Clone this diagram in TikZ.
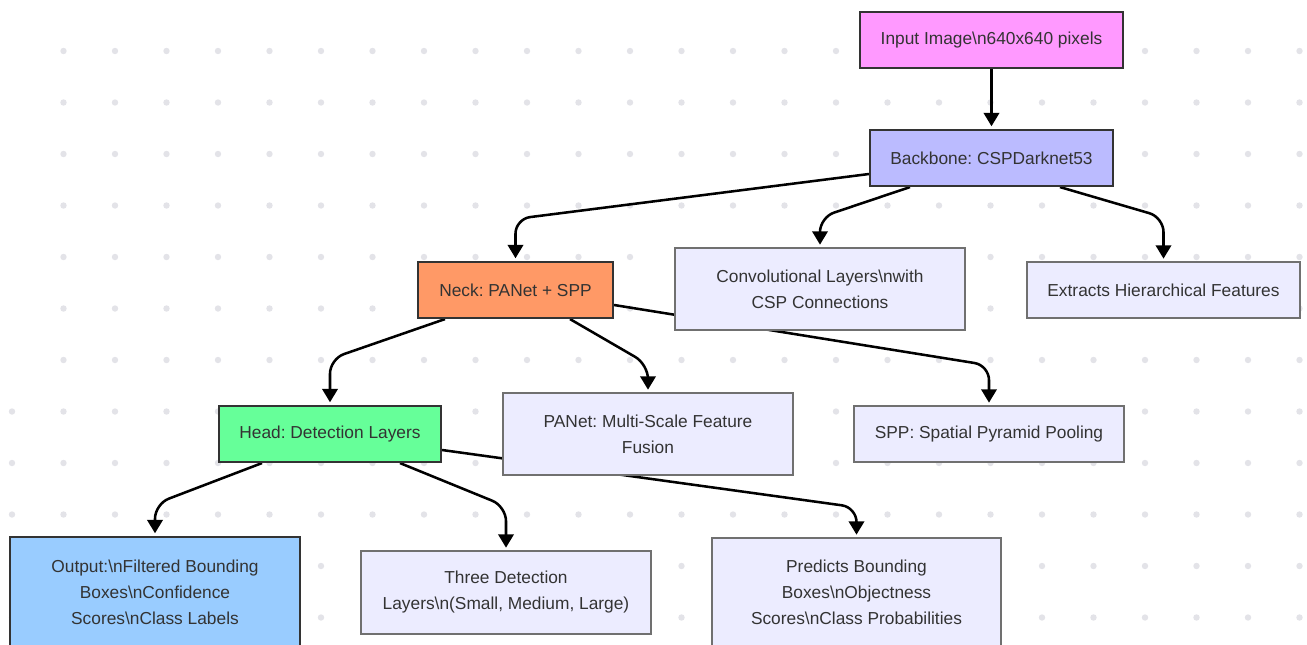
\documentclass[tikz,border=0pt]{standalone}
\usepackage{fontspec}
\setmainfont{Liberation Sans}
\frenchspacing
\usetikzlibrary{arrows.meta,calc}
\definecolor{txt}{HTML}{333333}
\definecolor{dotc}{HTML}{E3E3E8}
\definecolor{cInput}{HTML}{FF99FF}
\definecolor{cBack}{HTML}{BBBBFF}
\definecolor{cNeck}{HTML}{FF9966}
\definecolor{cHead}{HTML}{66FF99}
\definecolor{cOut}{HTML}{99CCFF}
\definecolor{cPlain}{HTML}{ECECFF}
\definecolor{bPlain}{HTML}{707070}
\pgfdeclarelayer{dotlayer}
\pgfdeclarelayer{edgelayer}
\pgfsetlayers{dotlayer,edgelayer,main}
\tikzset{
  box/.style={rectangle, draw=txt, line width=1.6pt, text=txt, font=\fontsize{13}{19.5}\selectfont, align=center, inner sep=0pt},
  plainbox/.style={box, fill=cPlain, draw=bPlain, line width=1pt},
  edge/.style={line width=1.9pt, black, rounded corners=11pt, -{Triangle[width=11.5pt,length=10pt]}},
}
\begin{document}
\begin{tikzpicture}[x=0.75pt,y=-0.75pt]
\useasboundingbox (0,0) rectangle (1307,644);
\begin{pgfonlayer}{dotlayer}
\fill[white] (0,0) rectangle (1307,644);
\foreach \i in {1,...,25}{
  \foreach \j in {0,...,11}{
    \fill[dotc] ({12+51.5*\i},{51+51.5*\j}) circle (2.4pt);
  }
}
\foreach \j in {7,...,11}{
  \fill[dotc] (12,{51+51.5*\j}) circle (2.4pt);
}
\end{pgfonlayer}
% nodes
\path
  (991.5,40)  node[box, fill=cInput, minimum width=197.25pt, minimum height=42pt] (inp) {Input Image\textbackslash n640x640 pixels}
  (991.5,158) node[box, fill=cBack, minimum width=182.25pt, minimum height=42pt] (bb) {Backbone: CSPDarknet53}
  (515.5,290) node[box, fill=cNeck, minimum width=146.25pt, minimum height=42pt] (neck) {Neck: PANet + SPP}
  (820,289)   node[plainbox, minimum width=217.5pt, minimum height=61.5pt] (conv) {Convolutional Layers\textbackslash nwith\\CSP Connections}
  (1163.5,290) node[plainbox, minimum width=204.75pt, minimum height=42pt] (ext) {Extracts Hierarchical Features}
  (330,434)   node[box, fill=cHead, minimum width=166.5pt, minimum height=42pt] (head) {Head: Detection Layers}
  (648,434)   node[plainbox, minimum width=217.5pt, minimum height=61.5pt] (panet) {PANet: Multi-Scale Feature\\Fusion}
  (989,434)   node[plainbox, minimum width=202.5pt, minimum height=42pt] (spp) {SPP: Spatial Pyramid Pooling}
  (155,592)   node[box, fill=cOut, minimum width=217.5pt, minimum height=82.5pt] (out) {Output:\textbackslash nFiltered Bounding\\Boxes\textbackslash nConfidence\\Scores\textbackslash nClass Labels}
  (506,592.5) node[plainbox, minimum width=217.5pt, minimum height=62.25pt] (three) {Three Detection\\Layers\textbackslash n(Small, Medium, Large)}
  (856.5,592) node[plainbox, minimum width=216.75pt, minimum height=81pt] (pred) {Predicts Bounding\\Boxes\textbackslash nObjectness\\Scores\textbackslash nClass Probabilities};
% edges
\begin{pgfonlayer}{edgelayer}
\draw[edge] (inp.south) -- ([yshift=2pt]bb.north);
\draw[edge] ($(bb.west)+(0,16)$) -- ($(neck.north)+(0,-42)$) -- ([yshift=2pt]neck.north);
\draw[edge] ($(bb.south)+(-81.5,0)$) -- ($(conv.north)+(0,-30)$) -- ([yshift=2pt]conv.north);
\draw[edge] ($(bb.south)+(68.5,0)$) -- ($(ext.north)+(0,-44)$) -- ([yshift=2pt]ext.north);
\draw[edge] ($(neck.south)+(-70.5,0)$) -- ($(head.north)+(0,-46)$) -- ([yshift=2pt]head.north);
\draw[edge] ($(neck.south)+(54.5,0)$) -- ($(panet.north)+(0,-28)$) -- ([yshift=2pt]panet.north);
\draw[edge] ($(neck.east)+(0,15)$) -- ($(spp.north)+(0,-40)$) -- ([yshift=2pt]spp.north);
\draw[edge] ($(head.south)+(-68,0)$) -- ($(out.north)+(0,-32)$) -- ([yshift=2pt]out.north);
\draw[edge] ($(head.south)+(70,0)$) -- ($(three.north)+(0,-44)$) -- ([yshift=2pt]three.north);
\draw[edge] ($(head.east)+(0,16)$) -- ($(pred.north)+(0,-30)$) -- ([yshift=2pt]pred.north);
\end{pgfonlayer}
\end{tikzpicture}
\end{document}
